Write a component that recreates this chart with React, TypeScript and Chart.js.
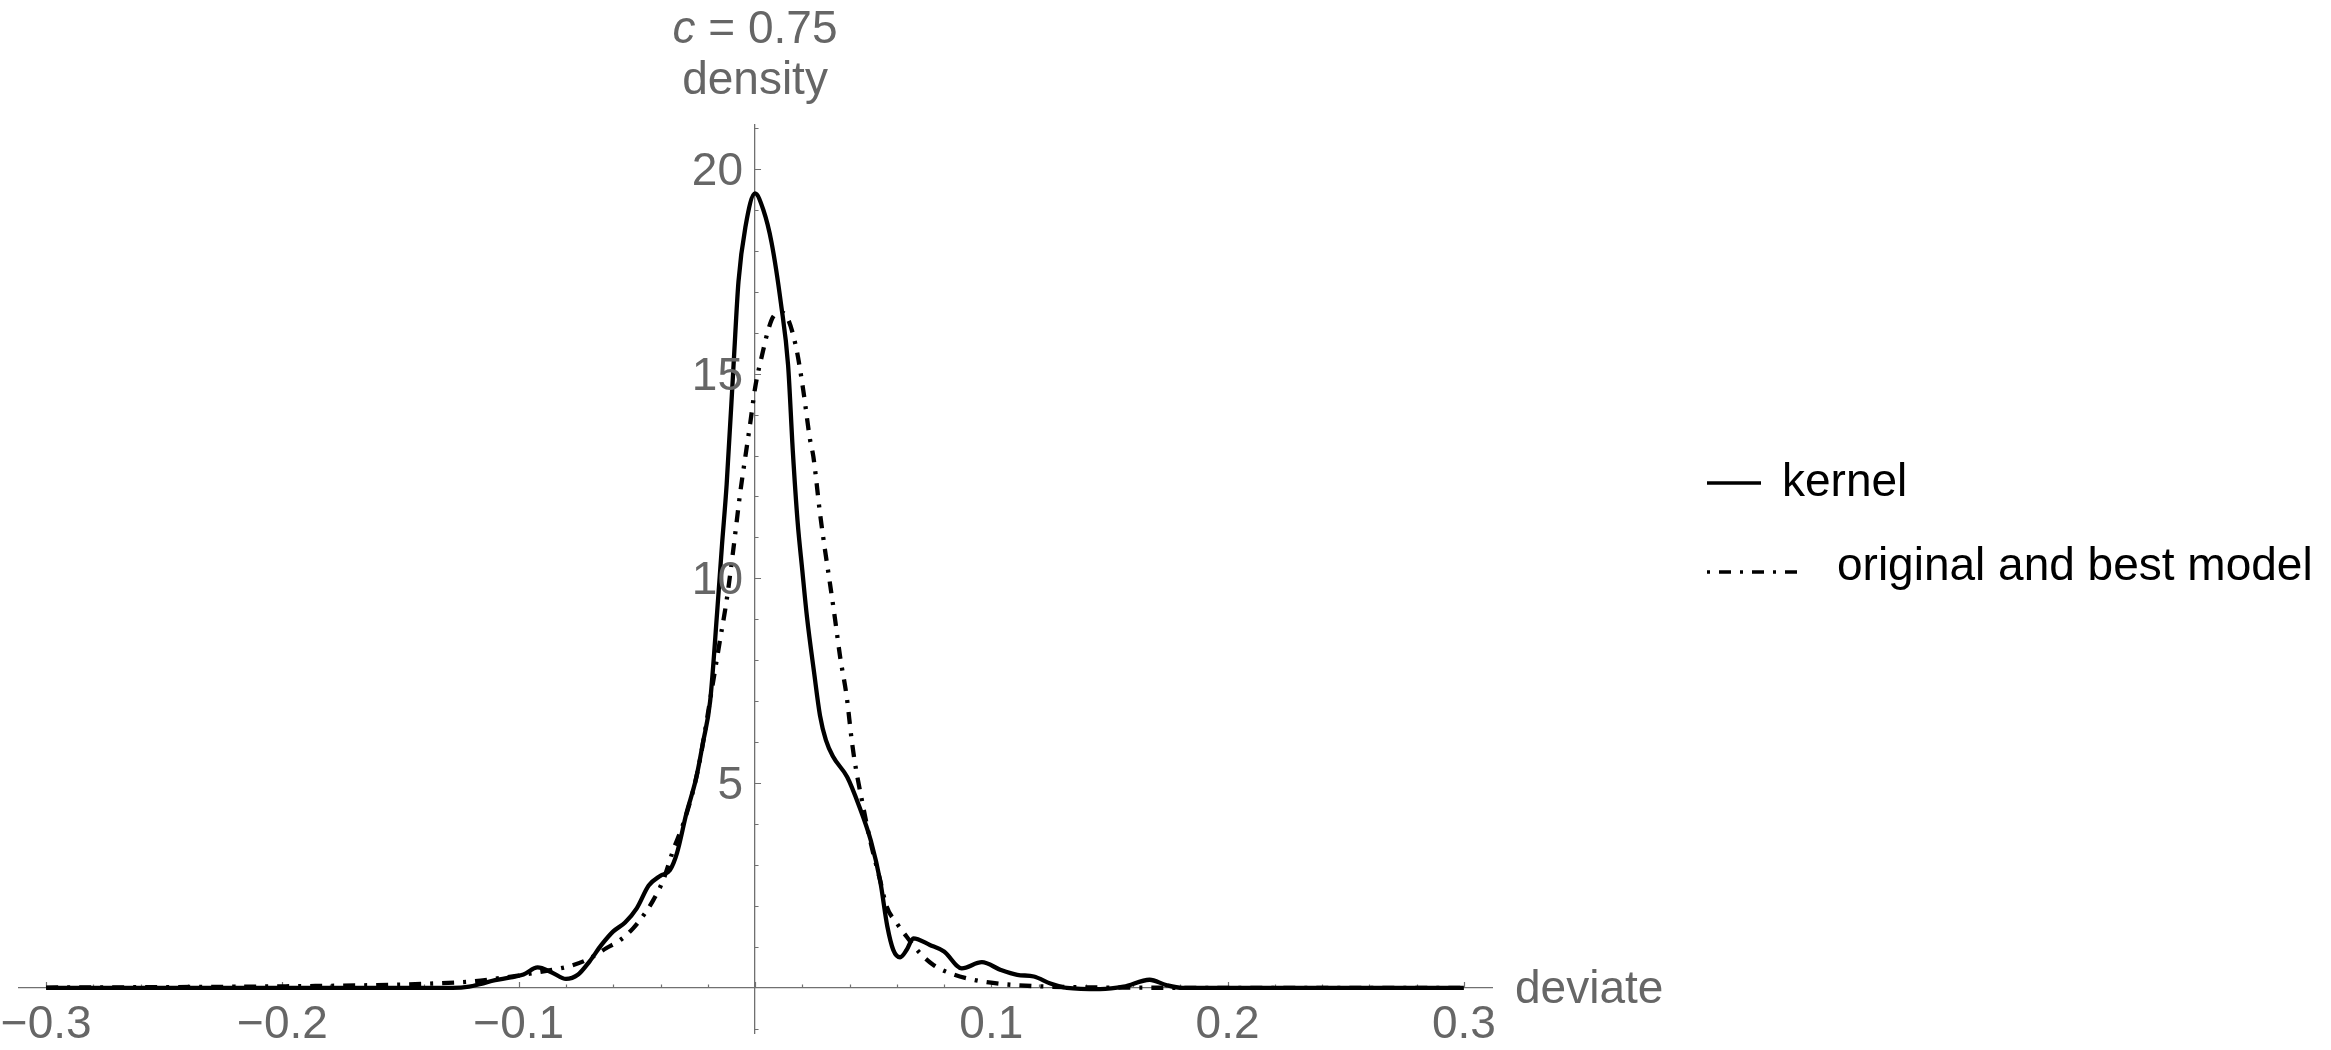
import React, { useEffect, useRef } from "react";
import { Chart, registerables } from "chart.js";

Chart.register(...registerables);

// ---- data ----
const kernelX = [-0.3, -0.25, -0.2, -0.15, -0.128, -0.121, -0.116, -0.11, -0.104, -0.098, -0.092, -0.086, -0.08, -0.075, -0.07, -0.065, -0.06, -0.055, -0.05, -0.045, -0.04, -0.036, -0.033, -0.029, -0.025, -0.022, -0.019, -0.016, -0.014, -0.012, -0.009, -0.007, -0.004, 0, 0.0035, 0.007, 0.011, 0.014, 0.016, 0.018, 0.02, 0.022, 0.025, 0.0275, 0.03, 0.033, 0.039, 0.044, 0.049, 0.053, 0.056, 0.0585, 0.0614, 0.0642, 0.067, 0.074, 0.08, 0.0875, 0.096, 0.104, 0.111, 0.118, 0.125, 0.132, 0.146, 0.156, 0.167, 0.174, 0.181, 0.2, 0.25, 0.3];
const kernelY = [0, 0, 0, 0, 0, 0.03, 0.1, 0.19, 0.25, 0.33, 0.5, 0.38, 0.22, 0.32, 0.65, 1.05, 1.38, 1.6, 1.95, 2.5, 2.74, 2.88, 3.3, 4.27, 5.1, 6.0, 7.0, 9.2, 10.8, 12.3, 15.3, 17.25, 18.6, 19.4, 19.0, 18.2, 16.7, 15.2, 13.1, 11.4, 10.2, 9.05, 7.7, 6.65, 6.05, 5.65, 5.15, 4.45, 3.6, 2.6, 1.5, 0.93, 0.75, 0.93, 1.21, 1.05, 0.89, 0.48, 0.63, 0.44, 0.32, 0.28, 0.11, 0, -0.03, 0.03, 0.2, 0.07, 0, 0, 0, 0];

const modelX = [-0.3, -0.25, -0.2, -0.16, -0.14, -0.12, -0.108, -0.094, -0.086, -0.078, -0.07, -0.063, -0.057, -0.0515, -0.0466, -0.043, -0.0388, -0.0346, -0.0303, -0.0261, -0.0233, -0.0183, -0.0148, -0.012, -0.0092, -0.0063, -0.0042, -0.002, 0, 0.0035, 0.0056, 0.0077, 0.011, 0.0141, 0.0176, 0.0204, 0.0233, 0.0247, 0.0275, 0.0296, 0.0317, 0.0339, 0.036, 0.0388, 0.0409, 0.0423, 0.0452, 0.0487, 0.0529, 0.0557, 0.06, 0.0642, 0.0698, 0.0755, 0.0825, 0.0924, 0.1023, 0.11, 0.12, 0.14, 0.16, 0.2, 0.25, 0.3];
const modelY = [0.01, 0.02, 0.04, 0.07, 0.1, 0.16, 0.24, 0.36, 0.44, 0.54, 0.72, 0.97, 1.17, 1.46, 1.82, 2.15, 2.64, 3.37, 4.02, 4.84, 5.57, 7.28, 8.5, 9.47, 10.7, 12.08, 12.93, 13.8, 14.64, 15.58, 16.07, 16.39, 16.5, 16.31, 15.58, 14.6, 13.38, 12.97, 11.59, 10.7, 9.88, 8.99, 8.09, 7.11, 6.06, 5.49, 4.59, 3.61, 2.64, 1.99, 1.58, 1.25, 0.85, 0.56, 0.36, 0.2, 0.11, 0.07, 0.04, 0.015, 0.007, 0.002, 0, 0];

const seriesNames = ["kernel", "original and best model"];
const xTickValues = [-0.3, -0.2, -0.1, 0.1, 0.2, 0.3];
const xTickLabels = ["\u22120.3", "\u22120.2", "\u22120.1", "0.1", "0.2", "0.3"];
const yTickValues = [5, 10, 15, 20];
const yTickLabels = ["5", "10", "15", "20"];
const titleVar = "c";
const titleRest = " = 0.75";
const yAxisTitle = "density";
const xAxisTitle = "deviate";

// ---- styling ----
const FONT = '"Liberation Sans", Arial, sans-serif';
const GRAY = "#666666";
const AXIS = "#707070";
const DASH = [12, 9, 3, 9];
const LINE_W = 4.3;

const X_MIN = -0.3115;
const X_MAX = 0.3119;
const Y_MIN = -1.1;
const Y_MAX = 21.07;

const overlay = {
  id: "overlay",
  beforeDatasetsDraw(chart: any) {
    const { ctx } = chart;
    const xs = chart.scales.x;
    const ys = chart.scales.y;
    const x0 = xs.getPixelForValue(0);
    const y0 = ys.getPixelForValue(0);
    ctx.save();
    ctx.strokeStyle = AXIS;
    ctx.lineWidth = 1.2;
    ctx.beginPath();
    for (let i = -15; i <= 15; i++) {
      const px = Math.round(xs.getPixelForValue(i * 0.02)) + 0.5;
      const len = i % 5 === 0 ? 6 : 3.5;
      ctx.moveTo(px, y0);
      ctx.lineTo(px, y0 - len);
    }
    for (let i = -1; i <= 21; i++) {
      if (i === 0) continue;
      const py = Math.round(ys.getPixelForValue(i)) + 0.5;
      const len = i % 5 === 0 ? 6 : 3.5;
      ctx.moveTo(x0, py);
      ctx.lineTo(x0 + len, py);
    }
    ctx.stroke();
    ctx.restore();
  },
  afterDraw(chart: any) {
    const { ctx } = chart;
    const xs = chart.scales.x;
    const ys = chart.scales.y;
    const x0 = xs.getPixelForValue(0);
    const y0 = ys.getPixelForValue(0);
    ctx.save();
    ctx.fillStyle = GRAY;
    ctx.font = `46px ${FONT}`;
    ctx.textBaseline = "alphabetic";
    ctx.textAlign = "center";
    xTickValues.forEach((v, i) => {
      ctx.fillText(xTickLabels[i], xs.getPixelForValue(v), y0 + 50);
    });
    ctx.textAlign = "right";
    yTickValues.forEach((v, i) => {
      ctx.fillText(yTickLabels[i], x0 - 12, ys.getPixelForValue(v) + 16);
    });

    // y-axis title (two lines)
    ctx.font = `46px ${FONT}`;
    const restW = ctx.measureText(titleRest).width;
    ctx.font = `italic 46px ${FONT}`;
    const varW = ctx.measureText(titleVar).width;
    const startX = x0 - (varW + restW) / 2;
    ctx.textAlign = "left";
    ctx.fillText(titleVar, startX, 43);
    ctx.font = `46px ${FONT}`;
    ctx.fillText(titleRest, startX + varW, 43);
    ctx.textAlign = "center";
    ctx.fillText(yAxisTitle, x0, 94);

    // x-axis title
    ctx.textAlign = "left";
    ctx.fillText(xAxisTitle, xs.right + 23, y0 + 15);

    // legend
    ctx.fillStyle = "#000";
    ctx.strokeStyle = "#000";
    ctx.lineWidth = 3.5;
    ctx.font = `46px ${FONT}`;
    ctx.beginPath();
    ctx.moveTo(1707, 483);
    ctx.lineTo(1761, 483);
    ctx.stroke();
    ctx.fillText(seriesNames[0], 1782, 496);
    ctx.setLineDash([3, 9, 12, 9]);
    ctx.beginPath();
    ctx.moveTo(1707, 572);
    ctx.lineTo(1805, 572);
    ctx.stroke();
    ctx.setLineDash([]);
    ctx.fillText(seriesNames[1], 1837, 580);
    ctx.restore();
  },
};

export default function App() {
  const ref = useRef<HTMLCanvasElement | null>(null);
  useEffect(() => {
    if (!ref.current) return;
    const chart = new Chart(ref.current, {
      type: "line",
      data: {
        datasets: [
          {
            label: seriesNames[0],
            data: kernelX.map((x, i) => ({ x, y: kernelY[i] })),
            borderColor: "#000",
            borderWidth: LINE_W,
            pointRadius: 0,
            fill: false,
            cubicInterpolationMode: "monotone",
          },
          {
            label: seriesNames[1],
            data: modelX.map((x, i) => ({ x, y: modelY[i] })),
            borderColor: "#000",
            borderWidth: LINE_W,
            borderDash: DASH,
            borderCapStyle: "butt",
            pointRadius: 0,
            fill: false,
            cubicInterpolationMode: "monotone",
          },
        ],
      },
      options: {
        responsive: false,
        maintainAspectRatio: false,
        animation: false,
        layout: { padding: { left: 19, top: 125, right: 839, bottom: 17 } },
        plugins: {
          legend: { display: false },
          tooltip: { enabled: false },
          title: { display: false },
        },
        scales: {
          x: {
            type: "linear",
            min: X_MIN,
            max: X_MAX,
            position: { y: 0 },
            grid: { display: false, drawTicks: false },
            ticks: { display: false },
            border: { display: true, color: AXIS, width: 1.3 },
          },
          y: {
            type: "linear",
            min: Y_MIN,
            max: Y_MAX,
            position: { x: 0 },
            grid: { display: false, drawTicks: false },
            ticks: { display: false },
            border: { display: true, color: AXIS, width: 1.3 },
          },
        },
      } as any,
      plugins: [overlay],
    });
    return () => chart.destroy();
  }, []);
  return (
    <div style={{ position: "absolute", left: 0, top: 0, width: 2331, height: 1050, background: "#fff" }}>
      <canvas ref={ref} width={2331} height={1050} style={{ display: "block", width: 2331, height: 1050 }} />
    </div>
  );
}
